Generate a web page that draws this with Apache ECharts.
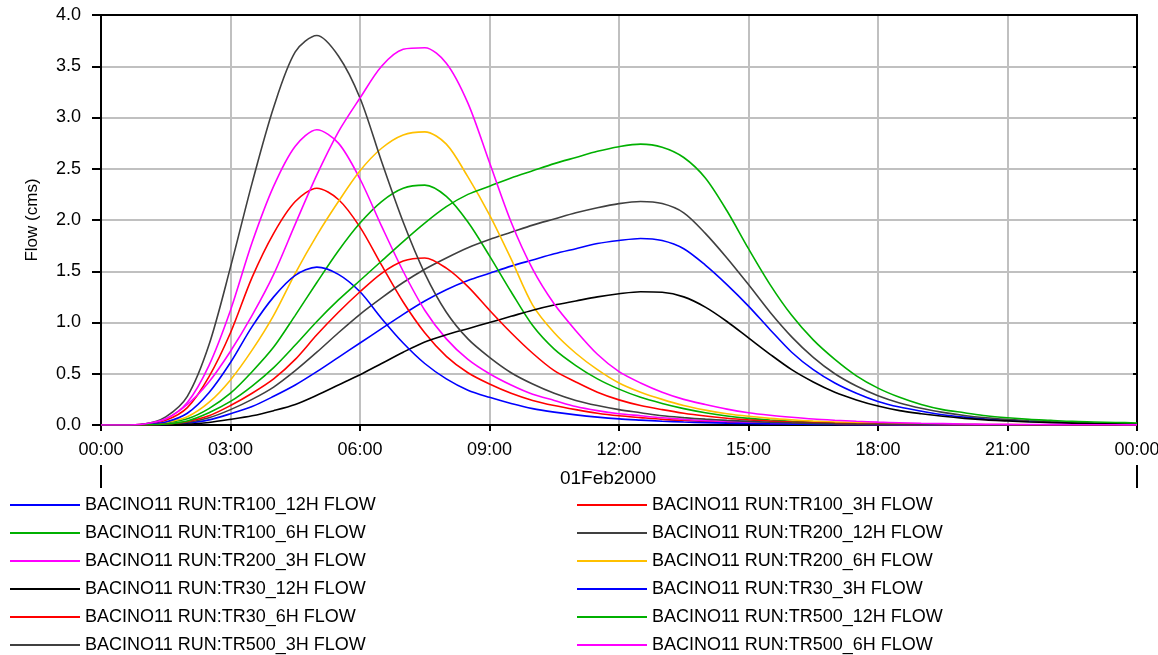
<!DOCTYPE html>
<html>
<head>
<meta charset="utf-8">
<title>BACINO11 Flow</title>
<script src="https://cdn.jsdelivr.net/npm/echarts@6/dist/echarts.min.js"></script>
<style>
  html, body { margin: 0; padding: 0; background: #fff; }
  #chart { width: 1158px; height: 655px; }
</style>
</head>
<body>
<div id="chart"></div>
<script>
// Time of each ordinate, in hours after 01Feb2000 00:00 (30-minute step)
const hours = [0, 0.5, 1, 1.5, 2, 2.5, 3, 3.5, 4, 4.5, 5, 5.5, 6, 6.5, 7, 7.5, 8, 8.5, 9, 9.5,
  10, 10.5, 11, 11.5, 12, 12.5, 13, 13.5, 14, 14.5, 15, 15.5, 16, 16.5, 17, 17.5, 18, 18.5, 19, 19.5,
  20, 20.5, 21, 21.5, 22, 22.5, 23, 23.5, 24];

const xTickLabels = ['00:00', '03:00', '06:00', '09:00', '12:00', '15:00', '18:00', '21:00', '00:00'];
const dateLabel = '01Feb2000';
const yAxisTitle = 'Flow (cms)';

// Flow hydrographs (cms)
const tr100_12h = [0, 0, 0.001, 0.005, 0.018, 0.05, 0.11, 0.18, 0.28, 0.39, 0.52, 0.66, 0.80, 0.94, 1.08, 1.21, 1.32, 1.41, 1.48, 1.55, 1.61, 1.67, 1.72, 1.77, 1.80, 1.82, 1.80, 1.72, 1.56, 1.37, 1.16, 0.93, 0.71, 0.54, 0.41, 0.31, 0.23, 0.175, 0.135, 0.10, 0.077, 0.059, 0.046, 0.036, 0.028, 0.022, 0.017, 0.013, 0.01];
const tr100_3h = [0, 0, 0.007, 0.046, 0.17, 0.47, 0.90, 1.44, 1.87, 2.18, 2.31, 2.20, 1.93, 1.56, 1.20, 0.90, 0.67, 0.51, 0.40, 0.31, 0.24, 0.19, 0.15, 0.115, 0.09, 0.072, 0.055, 0.044, 0.035, 0.028, 0.021, 0.016, 0.013, 0.01, 0.007, 0.005, 0.004, 0.003, 0.002, 0.002, 0.001, 0.001, 0, 0, 0, 0, 0, 0, 0];
const tr100_6h = [0, 0, 0.004, 0.02, 0.06, 0.16, 0.31, 0.52, 0.76, 1.07, 1.39, 1.70, 1.97, 2.18, 2.31, 2.34, 2.23, 1.98, 1.65, 1.30, 0.97, 0.74, 0.58, 0.45, 0.35, 0.27, 0.21, 0.16, 0.12, 0.088, 0.065, 0.049, 0.037, 0.028, 0.021, 0.016, 0.012, 0.009, 0.007, 0.005, 0.004, 0.003, 0.002, 0.002, 0.001, 0.001, 0, 0, 0];
const tr200_12h = [0, 0, 0.001, 0.007, 0.025, 0.07, 0.15, 0.25, 0.37, 0.53, 0.71, 0.90, 1.08, 1.24, 1.39, 1.52, 1.63, 1.73, 1.81, 1.88, 1.95, 2.01, 2.07, 2.12, 2.16, 2.18, 2.16, 2.07, 1.87, 1.63, 1.37, 1.10, 0.86, 0.66, 0.50, 0.38, 0.285, 0.215, 0.163, 0.123, 0.093, 0.071, 0.055, 0.042, 0.033, 0.026, 0.02, 0.016, 0.012];
const tr200_3h = [0, 0, 0.01, 0.06, 0.22, 0.58, 1.12, 1.78, 2.33, 2.72, 2.88, 2.75, 2.40, 1.94, 1.50, 1.12, 0.84, 0.64, 0.50, 0.39, 0.30, 0.24, 0.18, 0.14, 0.11, 0.09, 0.07, 0.055, 0.043, 0.035, 0.026, 0.02, 0.016, 0.012, 0.009, 0.007, 0.005, 0.004, 0.003, 0.002, 0.002, 0.001, 0.001, 0, 0, 0, 0, 0, 0];
const tr200_6h = [0, 0, 0.003, 0.025, 0.08, 0.22, 0.44, 0.73, 1.07, 1.48, 1.85, 2.18, 2.48, 2.70, 2.83, 2.86, 2.74, 2.42, 2.05, 1.62, 1.17, 0.90, 0.70, 0.54, 0.41, 0.32, 0.25, 0.19, 0.145, 0.11, 0.085, 0.065, 0.05, 0.038, 0.03, 0.023, 0.018, 0.014, 0.011, 0.008, 0.006, 0.005, 0.004, 0.003, 0.002, 0.001, 0.001, 0, 0];
const tr30_12h = [0, 0, 0, 0.002, 0.008, 0.025, 0.055, 0.09, 0.14, 0.20, 0.29, 0.39, 0.49, 0.60, 0.71, 0.81, 0.88, 0.94, 1.00, 1.06, 1.12, 1.17, 1.21, 1.25, 1.28, 1.30, 1.295, 1.25, 1.15, 1.01, 0.85, 0.69, 0.54, 0.42, 0.32, 0.245, 0.185, 0.14, 0.11, 0.085, 0.065, 0.05, 0.04, 0.03, 0.023, 0.018, 0.014, 0.011, 0.008];
const tr30_3h = [0, 0, 0.005, 0.03, 0.115, 0.315, 0.61, 0.96, 1.25, 1.46, 1.54, 1.47, 1.30, 1.04, 0.80, 0.60, 0.45, 0.34, 0.27, 0.21, 0.16, 0.126, 0.099, 0.077, 0.06, 0.048, 0.037, 0.029, 0.023, 0.018, 0.014, 0.011, 0.009, 0.006, 0.005, 0.003, 0.003, 0.002, 0.002, 0.001, 0.001, 0, 0, 0, 0, 0, 0, 0, 0];
const tr30_6h = [0, 0, 0.002, 0.01, 0.035, 0.09, 0.19, 0.31, 0.45, 0.64, 0.88, 1.10, 1.30, 1.48, 1.60, 1.63, 1.53, 1.35, 1.12, 0.90, 0.70, 0.53, 0.42, 0.32, 0.245, 0.19, 0.15, 0.115, 0.088, 0.066, 0.05, 0.038, 0.029, 0.022, 0.016, 0.012, 0.009, 0.007, 0.005, 0.004, 0.003, 0.002, 0.002, 0.001, 0.001, 0, 0, 0, 0];
const tr500_12h = [0, 0, 0.002, 0.01, 0.04, 0.12, 0.23, 0.38, 0.56, 0.78, 1.01, 1.22, 1.41, 1.60, 1.79, 1.97, 2.13, 2.25, 2.33, 2.41, 2.48, 2.55, 2.61, 2.67, 2.715, 2.74, 2.71, 2.61, 2.41, 2.09, 1.72, 1.37, 1.07, 0.83, 0.64, 0.48, 0.36, 0.27, 0.20, 0.15, 0.12, 0.09, 0.07, 0.055, 0.045, 0.035, 0.03, 0.025, 0.02];
const tr500_3h = [0, 0, 0.01, 0.08, 0.28, 0.78, 1.54, 2.36, 3.10, 3.64, 3.80, 3.60, 3.19, 2.57, 1.98, 1.48, 1.10, 0.84, 0.66, 0.51, 0.40, 0.31, 0.24, 0.19, 0.15, 0.12, 0.09, 0.072, 0.057, 0.045, 0.035, 0.027, 0.021, 0.016, 0.012, 0.009, 0.007, 0.005, 0.004, 0.003, 0.002, 0.002, 0.001, 0.001, 0.001, 0, 0, 0, 0];
const tr500_6h = [0, 0, 0.01, 0.06, 0.20, 0.42, 0.72, 1.07, 1.47, 1.96, 2.44, 2.86, 3.19, 3.50, 3.665, 3.68, 3.53, 3.14, 2.56, 1.98, 1.52, 1.18, 0.92, 0.69, 0.52, 0.41, 0.32, 0.25, 0.20, 0.155, 0.12, 0.095, 0.075, 0.058, 0.046, 0.036, 0.028, 0.022, 0.017, 0.013, 0.01, 0.008, 0.006, 0.005, 0.004, 0.003, 0.002, 0.002, 0.001];

const seriesNames = [
  'BACINO11 RUN:TR100_12H FLOW', 'BACINO11 RUN:TR100_3H FLOW', 'BACINO11 RUN:TR100_6H FLOW',
  'BACINO11 RUN:TR200_12H FLOW', 'BACINO11 RUN:TR200_3H FLOW', 'BACINO11 RUN:TR200_6H FLOW',
  'BACINO11 RUN:TR30_12H FLOW', 'BACINO11 RUN:TR30_3H FLOW', 'BACINO11 RUN:TR30_6H FLOW',
  'BACINO11 RUN:TR500_12H FLOW', 'BACINO11 RUN:TR500_3H FLOW', 'BACINO11 RUN:TR500_6H FLOW'
];
const seriesValues = [tr100_12h, tr100_3h, tr100_6h, tr200_12h, tr200_3h, tr200_6h,
  tr30_12h, tr30_3h, tr30_6h, tr500_12h, tr500_3h, tr500_6h];
const seriesColors = ['#0000ff', '#ff0000', '#00b000', '#404040', '#ff00ff', '#ffc000',
  '#000000', '#0000ff', '#ff0000', '#00b000', '#404040', '#ff00ff'];

const FONT = '"Liberation Sans", Arial, sans-serif';
const chart = echarts.init(document.getElementById('chart'), null, { renderer: 'canvas' });

const series = seriesNames.map((name, k) => ({
  name: name,
  type: 'line',
  xAxisIndex: 0,
  yAxisIndex: 0,
  data: hours.map((h, i) => [h, seriesValues[k][i]]),
  color: seriesColors[k],
  symbol: 'none',
  showSymbol: false,
  smooth: 0.3,
  lineStyle: { width: 1.6, color: seriesColors[k] },
  emphasis: { disabled: true }
}));

chart.setOption({
  animation: false,
  backgroundColor: '#ffffff',
  textStyle: { fontFamily: FONT },
  grid: { left: 101, right: 21, top: 15, bottom: 230, containLabel: false, outerBoundsMode: 'none' },
  legend: {
    data: seriesNames,
    left: 10,
    top: 496,
    width: 1150,
    padding: 0,
    itemGap: 10,
    itemWidth: 70,
    itemHeight: 2,
    icon: 'rect',
    selectedMode: false,
    textStyle: { fontFamily: FONT, fontSize: 18, color: '#000', width: 482, lineHeight: 18 }
  },
  xAxis: [
    {
      type: 'value', min: 0, max: 24, interval: 3, position: 'bottom',
      axisLine: { show: true, onZero: false, lineStyle: { color: '#000', width: 2 } },
      axisTick: { show: true, length: 6, lineStyle: { color: '#000', width: 2 } },
      axisLabel: {
        margin: 16, fontSize: 18, color: '#000', fontFamily: FONT,
        showMinLabel: true, showMaxLabel: true,
        formatter: v => xTickLabels[Math.round(v / 3)]
      },
      splitLine: { show: true, lineStyle: { color: '#c0c0c0', width: 2 } }
    },
    {
      type: 'value', min: 0, max: 24, interval: 3, position: 'top',
      axisLine: { show: true, onZero: false, lineStyle: { color: '#000', width: 2 } },
      axisTick: { show: false }, axisLabel: { show: false }, splitLine: { show: false }
    },
    {
      type: 'value', min: 0, max: 24, interval: 24, position: 'bottom', offset: 40,
      axisLine: { show: false, onZero: false },
      axisTick: { show: true, length: 23, lineStyle: { color: '#000', width: 2 } },
      axisLabel: { show: false }, splitLine: { show: false },
      name: dateLabel, nameLocation: 'middle', nameGap: 4,
      nameTextStyle: { fontSize: 19, color: '#000', fontFamily: FONT, padding: [0, 22, 0, 0] }
    }
  ],
  yAxis: [
    {
      type: 'value', min: 0, max: 4, interval: 0.5, position: 'left',
      axisLine: { show: true, onZero: false, lineStyle: { color: '#000', width: 2 } },
      axisTick: { show: true, length: 9, lineStyle: { color: '#000', width: 2 } },
      axisLabel: { margin: 20, fontSize: 18, color: '#000', fontFamily: FONT, formatter: v => v.toFixed(1) },
      splitLine: { show: true, lineStyle: { color: '#c0c0c0', width: 2 } },
      name: yAxisTitle, nameLocation: 'middle', nameGap: 60,
      nameTextStyle: { fontSize: 17, color: '#000', fontFamily: FONT }
    },
    {
      type: 'value', min: 0, max: 4, interval: 0.5, position: 'right',
      axisLine: { show: true, onZero: false, lineStyle: { color: '#000', width: 2 } },
      axisTick: { show: true, inside: true, length: 4, lineStyle: { color: '#000', width: 2 } },
      axisLabel: { show: false }, splitLine: { show: false }
    }
  ],
  series: series
});
</script>
</body>
</html>
